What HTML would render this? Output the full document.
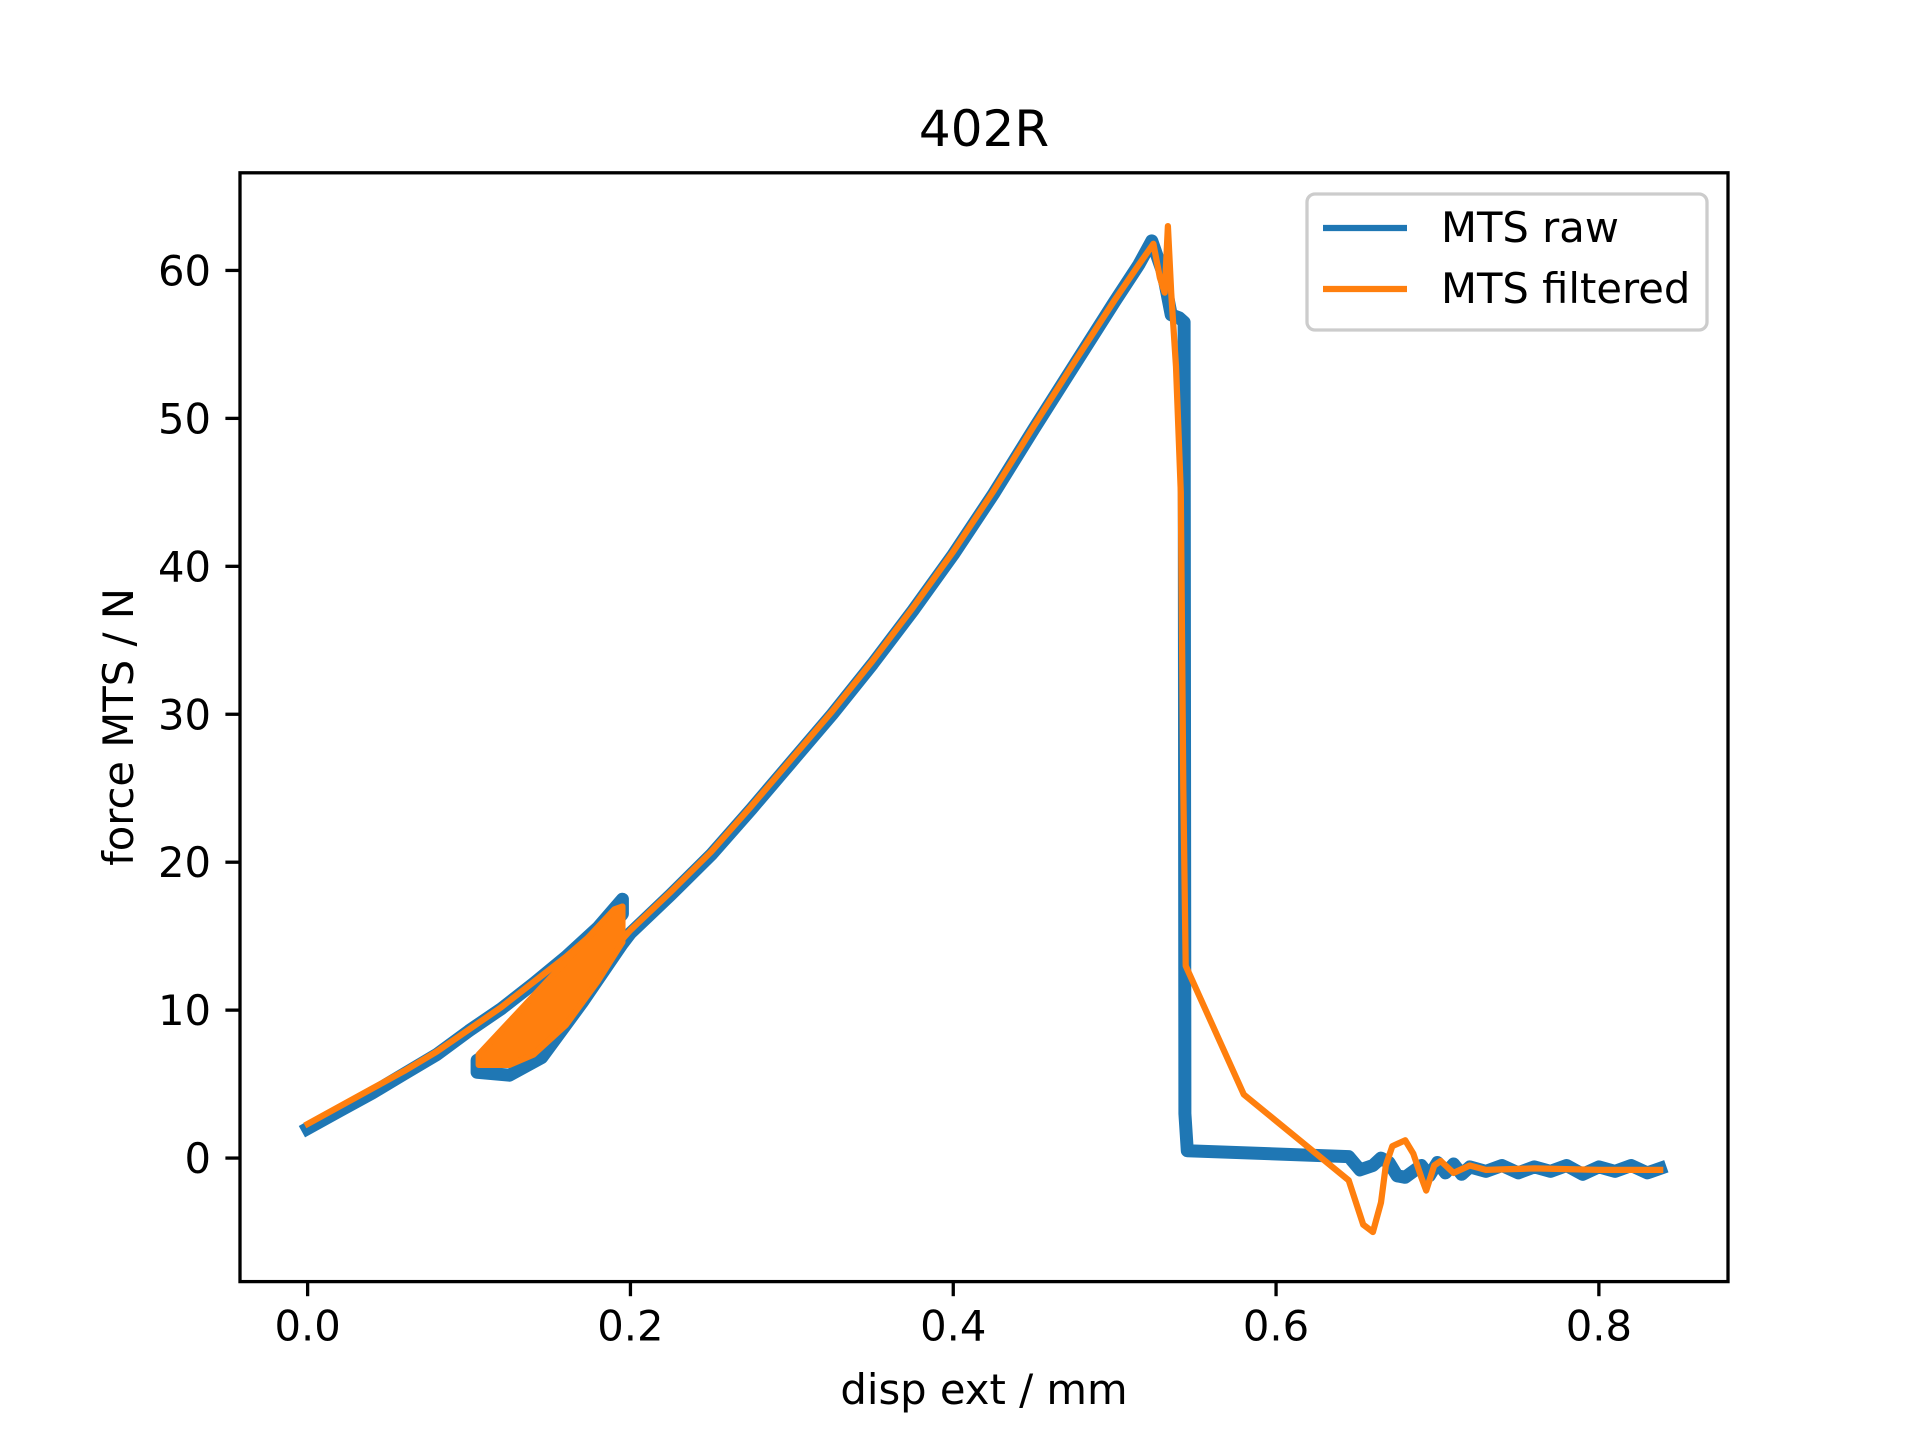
<!DOCTYPE html>
<html><head><meta charset="utf-8"><style>
html,body{margin:0;padding:0;background:#fff;}
svg{display:block;font-family:"DejaVu Sans","Liberation Sans",sans-serif;}
</style></head><body>
<svg id="chart" width="1920" height="1440" viewBox="0 0 1920 1440" xmlns="http://www.w3.org/2000/svg">
<rect width="1920" height="1440" fill="#fff"/>
<text x="984" y="146" font-size="50" text-anchor="middle">402R</text>
<g id="plot"></g>
<rect x="240" y="172.8" width="1488" height="1108.8" fill="none" stroke="#000" stroke-width="3.3"/>
<g id="axes"></g>
<text x="984" y="1404" font-size="41.7" text-anchor="middle">disp ext / mm</text>
<text transform="translate(133,727) rotate(-90)" font-size="41.7" text-anchor="middle">force MTS / N</text>
<g>
<rect x="1307" y="194" width="400" height="136" rx="8" fill="#fff" fill-opacity="0.8" stroke="#ccc" stroke-width="3.3"/>
<line x1="1323" y1="228" x2="1407" y2="228" stroke="#1f77b4" stroke-width="6.25"/>
<text x="1441" y="242" font-size="41.7">MTS raw</text>
<line x1="1323" y1="289" x2="1407" y2="289" stroke="#ff7f0e" stroke-width="6.25"/>
<text x="1441" y="303" font-size="41.7">MTS filtered</text>
</g>
</svg>
<script>
const xTicks=[0,0.2,0.4,0.6,0.8];
const xTickLabels=["0.0","0.2","0.4","0.6","0.8"];
const yTicks=[0,10,20,30,40,50,60];
const yTickLabels=["0","10","20","30","40","50","60"];
const rawX=[0,0.02,0.04,0.06,0.08,0.1,0.12,0.14,0.16,0.18,0.195,0.195,0.17,0.145,0.125,0.105,0.105,0.125,0.145,0.17,0.195,0.2,0.225,0.25,0.275,0.3,0.325,0.35,0.375,0.4,0.425,0.45,0.475,0.5,0.515,0.523,0.53,0.535,0.54,0.543,0.5435,0.545,0.645,0.652,0.66,0.665,0.67,0.675,0.68,0.69,0.695,0.7,0.705,0.71,0.715,0.72,0.73,0.74,0.75,0.76,0.77,0.78,0.79,0.8,0.81,0.82,0.83,0.838];
const rawY=[2.0,3.2,4.4,5.7,7.0,8.6,10.1,11.8,13.6,15.6,17.5,16.5,13.2,10.0,8.0,6.6,5.8,5.6,6.8,10.5,14.5,15.2,17.8,20.5,23.6,26.8,30.0,33.4,37.0,40.8,44.9,49.3,53.6,57.9,60.4,62.0,59.8,57.0,56.8,56.5,3.0,0.5,0.1,-0.8,-0.5,0.0,-0.3,-1.2,-1.3,-0.5,-1.2,-0.3,-1.0,-0.4,-1.1,-0.6,-0.9,-0.5,-1.0,-0.6,-0.9,-0.5,-1.1,-0.6,-0.9,-0.5,-1.0,-0.7];
const filtX=[0,0.02,0.04,0.06,0.08,0.1,0.12,0.14,0.16,0.18,0.195,0.195,0.2,0.225,0.25,0.275,0.3,0.325,0.35,0.375,0.4,0.425,0.45,0.475,0.5,0.515,0.524,0.528,0.531,0.533,0.535,0.538,0.541,0.5425,0.544,0.58,0.645,0.654,0.66,0.665,0.668,0.672,0.68,0.685,0.69,0.693,0.698,0.702,0.71,0.72,0.73,0.76,0.8,0.838];
const filtY=[2.3,3.5,4.7,5.9,7.2,8.7,10.2,11.9,13.6,15.5,17.0,14.8,15.4,18.0,20.7,23.8,27.0,30.2,33.6,37.2,41.0,45.1,49.5,53.8,58.0,60.4,61.8,59.5,58.5,63.0,58.5,53.5,45.0,25.0,13.0,4.3,-1.5,-4.5,-5.0,-3.0,-0.5,0.8,1.2,0.3,-1.3,-2.2,-0.5,-0.2,-1.0,-0.5,-0.8,-0.7,-0.8,-0.8];
const loopX=[0.106,0.19,0.195,0.195,0.18,0.16,0.14,0.125,0.106];
const loopY=[7.0,16.8,17.0,14.6,12.0,9.0,7.0,6.3,6.3];
const XMIN=-0.0419,XMAX=0.880,YMIN=-8.35,YMAX=66.6;
const L=240,R=1728,T=172.8,B=1281.6;
function sx(v){return L+(v-XMIN)/(XMAX-XMIN)*(R-L);}
function sy(v){return B-(v-YMIN)/(YMAX-YMIN)*(B-T);}
const NS="http://www.w3.org/2000/svg";
const plot=document.getElementById('plot');
function line(xs,ys,color,w,name,tag,fill){
  const p=document.createElementNS(NS,tag||'polyline');
  p.setAttribute('points',xs.map((x,i)=>sx(x).toFixed(1)+','+sy(ys[i]).toFixed(1)).join(' '));
  p.setAttribute('fill',fill||'none');p.setAttribute('stroke',color);p.setAttribute('stroke-width',w);
  p.setAttribute('stroke-linejoin','round');p.setAttribute('stroke-linecap','square');
  
  
  plot.appendChild(p);
}
line(rawX,rawY,'#1f77b4',13,'mts-raw-line');
line(filtX,filtY,'#ff7f0e',6.25,'mts-filtered-line');
line(loopX,loopY,'#ff7f0e',6.25,'mts-filtered-hysteresis-loops','polygon','#ff7f0e');
const axes=document.getElementById('axes');
xTicks.forEach((v,i)=>{
  const t=document.createElementNS(NS,'line');
  t.setAttribute('x1',sx(v));t.setAttribute('x2',sx(v));t.setAttribute('y1',B);t.setAttribute('y2',B+14.6);
  t.setAttribute('stroke','#000');t.setAttribute('stroke-width',3.3);
  
  
  axes.appendChild(t);
  const s=document.createElementNS(NS,'text');
  s.setAttribute('x',sx(v));s.setAttribute('y',B+59);s.setAttribute('font-size','41.7');s.setAttribute('text-anchor','middle');
  s.textContent=xTickLabels[i];
  
  
  axes.appendChild(s);
});
yTicks.forEach((v,i)=>{
  const t=document.createElementNS(NS,'line');
  t.setAttribute('x1',L-14.6);t.setAttribute('x2',L);t.setAttribute('y1',sy(v));t.setAttribute('y2',sy(v));
  t.setAttribute('stroke','#000');t.setAttribute('stroke-width',3.3);
  
  
  axes.appendChild(t);
  const s=document.createElementNS(NS,'text');
  s.setAttribute('x',L-29);s.setAttribute('y',sy(v)+15);s.setAttribute('font-size','41.7');s.setAttribute('text-anchor','end');
  s.textContent=yTickLabels[i];
  
  
  axes.appendChild(s);
});
</script>
</body></html>
